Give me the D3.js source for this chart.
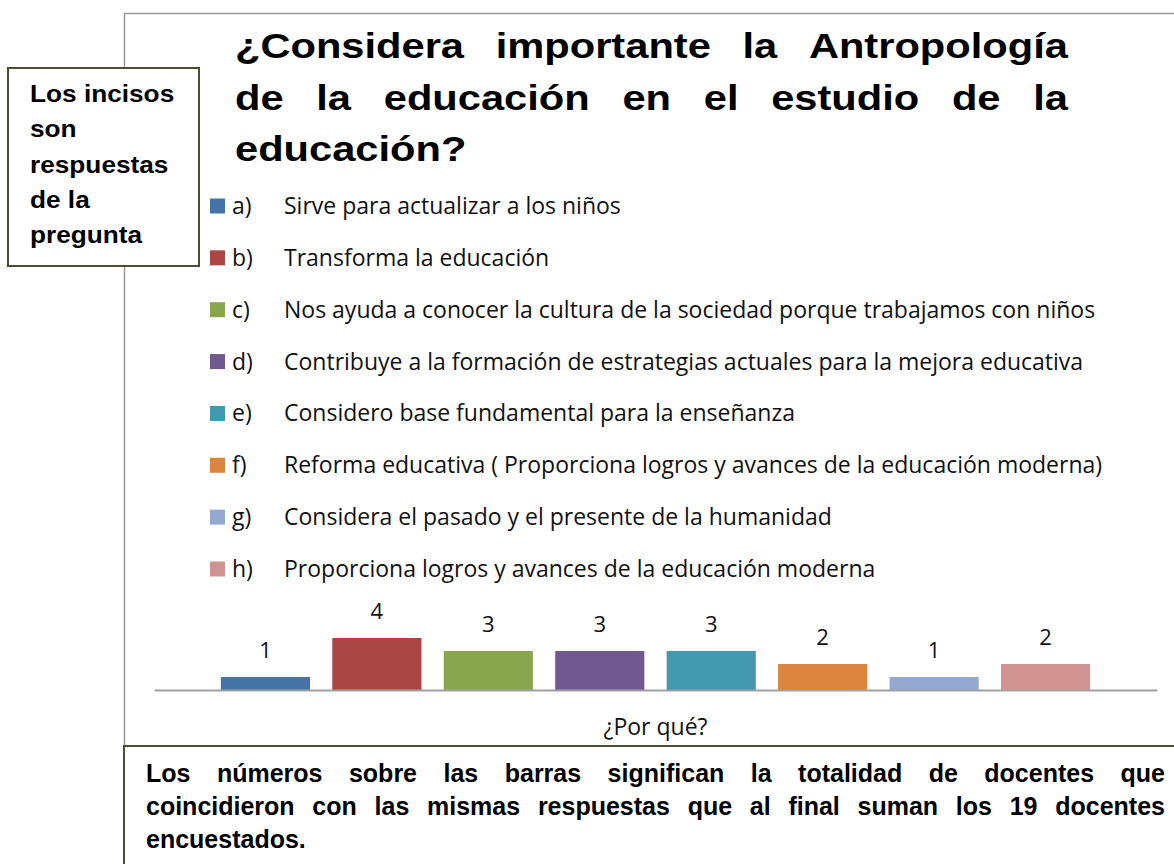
<!DOCTYPE html>
<html>
<head>
<meta charset="utf-8">
<script src="https://cdn.jsdelivr.net/npm/d3@7"></script>
<style>
  body { margin: 0; background: #fff; }
  svg { display: block; }
</style>
</head>
<body>
<svg width="1174" height="864"></svg>
<script>
window.onload = function() {

  // chart data
  var categories = ["a)", "b)", "c)", "d)", "e)", "f)", "g)", "h)"];
  var descriptions = [
    "Sirve para actualizar a los niños",
    "Transforma la educación",
    "Nos ayuda a conocer la cultura de la sociedad porque trabajamos con niños",
    "Contribuye a la formación de estrategias actuales para la mejora educativa",
    "Considero base fundamental para la enseñanza",
    "Reforma educativa ( Proporciona logros y avances de la educación moderna)",
    "Considera el pasado y el presente de la humanidad",
    "Proporciona logros y avances de la educación moderna"
  ];
  var values = [1, 4, 3, 3, 3, 2, 1, 2];
  var colors = ["#4572A7", "#AA4643", "#89A54E", "#71588F", "#4198AF", "#DB843D", "#93A9CF", "#D19392"];

  var titleLines = [
    "¿Considera importante la Antropología",
    "de la educación en el estudio de la",
    "educación?"
  ];
  var sideNote = ["Los incisos", "son", "respuestas", "de la", "pregunta"];
  var bottomNote = [
    "Los números sobre las barras significan la totalidad de docentes que",
    "coincidieron con las mismas respuestas que al final suman los 19 docentes",
    "encuestados."
  ];
  var axisTitle = "¿Por qué?";

  var svg = d3.select("svg");
  var arial = "'Liberation Sans', Arial, sans-serif";
  var calibri = "'Open Sans', 'Noto Sans', sans-serif";
  var frameColor = "#4d4a36";

  // chart area frame
  svg.append("rect")
      .attr("x", 124.5)
      .attr("y", 13.5)
      .attr("width", 1200)
      .attr("height", 900)
      .attr("fill", "#fff")
      .attr("stroke", "#9a9a9a")
      .attr("stroke-width", 1.5);

  // justified bold text, word by word
  function justify(g, lines, o) {
    lines.forEach(function(line, i) {
      var words = line.split(" ");
      var y = o.y0 + i * o.lh;
      var nodes = words.map(function(w) {
        return g.append("text")
            .attr("font-family", arial)
            .attr("font-weight", "bold")
            .attr("font-size", o.size)
            .attr("fill", "#000")
            .text(w);
      });
      var widths = nodes.map(function(n) { return n.node().getComputedTextLength() * o.sx; });
      var last = i === lines.length - 1 || words.length < 2;
      var gap = last ? o.size * 0.278 * o.sx
        : (o.x1 - o.x0 - d3.sum(widths)) / (words.length - 1);
      var x = o.x0;
      nodes.forEach(function(n, j) {
        n.attr("transform", "translate(" + x + "," + y + ") scale(" + o.sx + ",1)");
        x += widths[j] + gap;
      });
    });
  }

  // title
  justify(svg.append("g"), titleLines, { x0: 235, x1: 1068, y0: 58, lh: 51.5, size: 35, sx: 1.19 });

  // legend
  var legendY = d3.scalePoint().domain(categories).range([206, 569]);
  var legend = svg.append("g")
    .selectAll("g")
    .data(categories)
    .enter().append("g")
      .attr("transform", function(d) { return "translate(0," + legendY(d) + ")"; });

  legend.append("rect")
      .attr("x", 210)
      .attr("y", -7.5)
      .attr("width", 15)
      .attr("height", 15)
      .attr("fill", function(d, i) { return colors[i]; });

  legend.append("text")
      .attr("x", 232)
      .attr("y", 8)
      .attr("font-family", calibri)
      .attr("font-size", 23)
      .attr("fill", "#111")
      .text(function(d) { return d; });

  legend.append("text")
      .attr("x", 284)
      .attr("y", 8)
      .attr("font-family", calibri)
      .attr("font-size", 23)
      .attr("fill", "#111")
      .text(function(d, i) { return descriptions[i]; });

  // bars
  var x = d3.scaleBand()
      .domain(categories)
      .range([154, 1157])
      .paddingInner(0.2)
      .paddingOuter(0.6);

  var y = d3.scaleLinear()
      .domain([0, 4])
      .range([690, 638]);

  svg.append("g")
    .selectAll("rect")
    .data(values)
    .enter().append("rect")
      .attr("x", function(d, i) { return x(categories[i]); })
      .attr("y", function(d) { return y(d); })
      .attr("width", x.bandwidth())
      .attr("height", function(d) { return y(0) - y(d); })
      .attr("fill", function(d, i) { return colors[i]; });

  svg.append("g")
    .selectAll("text")
    .data(values)
    .enter().append("text")
      .attr("x", function(d, i) { return x(categories[i]) + x.bandwidth() / 2; })
      .attr("y", function(d) { return y(d) - 19; })
      .attr("text-anchor", "middle")
      .attr("font-family", calibri)
      .attr("font-size", 22)
      .attr("fill", "#111")
      .text(function(d) { return d; });

  var axis = svg.append("g")
      .attr("transform", "translate(0," + y(0) + ")")
      .call(d3.axisBottom(x).tickSize(0).tickSizeOuter(0).tickFormat(""));
  axis.select(".domain")
      .attr("stroke", "#a0a0a0")
      .attr("stroke-width", 2);

  svg.append("text")
      .attr("x", (154 + 1157) / 2)
      .attr("y", 735)
      .attr("text-anchor", "middle")
      .attr("font-family", calibri)
      .attr("font-size", 23)
      .attr("fill", "#111")
      .text(axisTitle);

  // side note box
  svg.append("rect")
      .attr("x", 8)
      .attr("y", 68)
      .attr("width", 191)
      .attr("height", 198)
      .attr("fill", "#fff")
      .attr("stroke", frameColor)
      .attr("stroke-width", 2);

  svg.append("g")
    .selectAll("text")
    .data(sideNote)
    .enter().append("text")
      .attr("transform", function(d, i) { return "translate(30," + (102 + i * 35.3) + ") scale(1.14,1)"; })
      .attr("font-family", arial)
      .attr("font-weight", "bold")
      .attr("font-size", 23)
      .attr("fill", "#000")
      .text(function(d) { return d; });

  // bottom note box
  svg.append("rect")
      .attr("x", 124)
      .attr("y", 746)
      .attr("width", 1200)
      .attr("height", 300)
      .attr("fill", "#fff")
      .attr("stroke", frameColor)
      .attr("stroke-width", 2);

  justify(svg.append("g"), bottomNote, { x0: 146, x1: 1165, y0: 782, lh: 33, size: 25, sx: 1 });
};
</script>
</body>
</html>
